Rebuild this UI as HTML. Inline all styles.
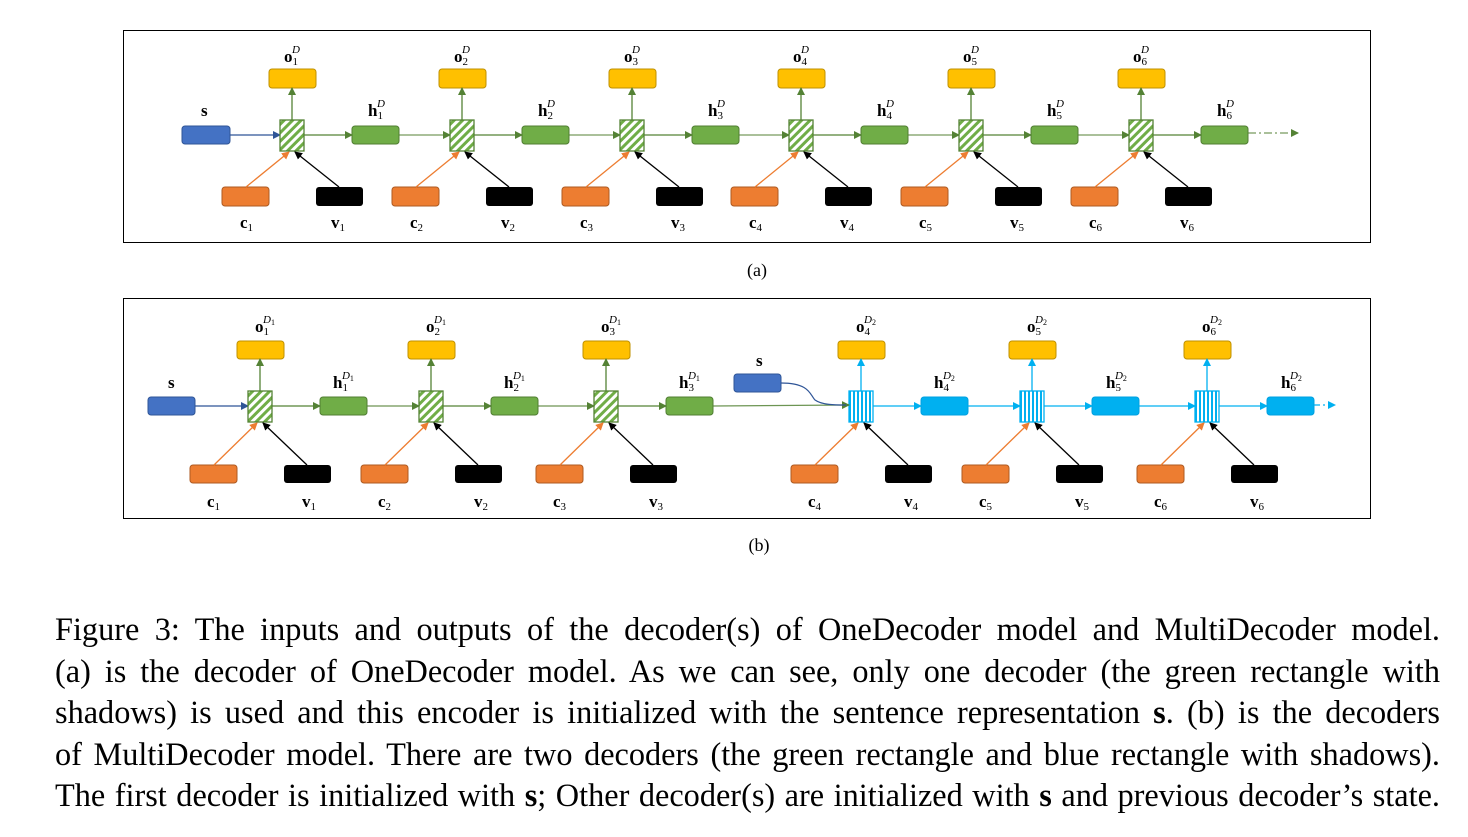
<!DOCTYPE html>
<html><head><meta charset="utf-8">
<style>
html,body{margin:0;padding:0;background:#fff;}
body{width:1468px;height:837px;position:relative;overflow:hidden;font-family:"Liberation Serif",serif;}
svg{position:absolute;left:0;top:0;}
.cap{position:absolute;left:55px;width:1385px;font-size:32.3px;line-height:41.5px;top:609px;color:#000;}
.cap div{text-align:justify;text-align-last:justify;white-space:nowrap;height:41.5px;}
</style></head><body>
<svg width="1468" height="837" viewBox="0 0 1468 837" font-family="Liberation Serif, serif">
<defs>
<pattern id="hatch" width="6" height="6" patternUnits="userSpaceOnUse" patternTransform="rotate(45)">
<rect width="6" height="6" fill="#fff"/><rect width="3" height="6" fill="#70AD47"/>
</pattern>
<pattern id="vstripe" width="4" height="4" patternUnits="userSpaceOnUse">
<rect width="4" height="4" fill="#fff"/><rect width="2" height="4" fill="#00B0F0"/>
</pattern>
<marker id="ag" markerWidth="8" markerHeight="8" refX="7" refY="4" orient="auto" markerUnits="userSpaceOnUse"><path d="M0,0 L8,4 L0,8z" fill="#548235"/></marker>
<marker id="ab" markerWidth="8" markerHeight="8" refX="7" refY="4" orient="auto" markerUnits="userSpaceOnUse"><path d="M0,0 L8,4 L0,8z" fill="#2F5597"/></marker>
<marker id="ac" markerWidth="8" markerHeight="8" refX="7" refY="4" orient="auto" markerUnits="userSpaceOnUse"><path d="M0,0 L8,4 L0,8z" fill="#00B0F0"/></marker>
<marker id="ao" markerWidth="8" markerHeight="8" refX="7" refY="4" orient="auto" markerUnits="userSpaceOnUse"><path d="M0,0 L8,4 L0,8z" fill="#ED7D31"/></marker>
<marker id="ak" markerWidth="8" markerHeight="8" refX="7" refY="4" orient="auto" markerUnits="userSpaceOnUse"><path d="M0,0 L8,4 L0,8z" fill="#000"/></marker>

<g id="ca">
<rect x="-23" y="69" width="47" height="19" rx="3" fill="#FFC000" stroke="#BF9000"/>
<line x1="0" y1="120" x2="0" y2="88" stroke="#548235" stroke-width="1.3" marker-end="url(#ag)"/>
<rect x="-12" y="120" width="24" height="31" fill="url(#hatch)" stroke="#548235" stroke-width="1.3"/>
<rect x="-70" y="187" width="47" height="19" rx="3" fill="#ED7D31" stroke="#AE5A21"/>
<rect x="24" y="187" width="47" height="19" rx="3" fill="#000"/>
<line x1="-46" y1="187" x2="-3" y2="152" stroke="#ED7D31" stroke-width="1.3" marker-end="url(#ao)"/>
<line x1="47" y1="187" x2="3" y2="152" stroke="#000" stroke-width="1.3" marker-end="url(#ak)"/>
<rect x="60" y="126" width="47" height="18" rx="3" fill="#70AD47" stroke="#507E32"/>
<line x1="12" y1="135" x2="60" y2="135" stroke="#548235" stroke-width="1.3" marker-end="url(#ag)"/>
</g>
<g id="cbg">
<rect x="-23" y="341" width="47" height="18" rx="3" fill="#FFC000" stroke="#BF9000"/>
<line x1="0" y1="391" x2="0" y2="359" stroke="#548235" stroke-width="1.3" marker-end="url(#ag)"/>
<rect x="-12" y="391" width="24" height="31" fill="url(#hatch)" stroke="#548235" stroke-width="1.3"/>
<rect x="-70" y="465" width="47" height="18" rx="3" fill="#ED7D31" stroke="#AE5A21"/>
<rect x="24" y="465" width="47" height="18" rx="3" fill="#000"/>
<line x1="-46" y1="465" x2="-3" y2="423" stroke="#ED7D31" stroke-width="1.3" marker-end="url(#ao)"/>
<line x1="47" y1="465" x2="3" y2="423" stroke="#000" stroke-width="1.3" marker-end="url(#ak)"/>
<rect x="60" y="397" width="47" height="18" rx="3" fill="#70AD47" stroke="#507E32"/>
<line x1="12" y1="406" x2="60" y2="406" stroke="#548235" stroke-width="1.3" marker-end="url(#ag)"/>
</g>
<g id="cbb">
<rect x="-23" y="341" width="47" height="18" rx="3" fill="#FFC000" stroke="#BF9000"/>
<line x1="0" y1="391" x2="0" y2="359" stroke="#00B0F0" stroke-width="1.3" marker-end="url(#ac)"/>
<rect x="-12" y="391" width="24" height="31" fill="url(#vstripe)" stroke="#00B0F0" stroke-width="1.3"/>
<rect x="-70" y="465" width="47" height="18" rx="3" fill="#ED7D31" stroke="#AE5A21"/>
<rect x="24" y="465" width="47" height="18" rx="3" fill="#000"/>
<line x1="-46" y1="465" x2="-3" y2="423" stroke="#ED7D31" stroke-width="1.3" marker-end="url(#ao)"/>
<line x1="47" y1="465" x2="3" y2="423" stroke="#000" stroke-width="1.3" marker-end="url(#ak)"/>
<rect x="60" y="397" width="47" height="18" rx="3" fill="#00B0F0" stroke="#00A0E0"/>
<line x1="12" y1="406" x2="60" y2="406" stroke="#00B0F0" stroke-width="1.3" marker-end="url(#ac)"/>
</g>
</defs>

<!-- Panel a -->
<rect x="123.5" y="30.5" width="1247" height="212" fill="none" stroke="#000" stroke-width="1"/>
<rect x="182" y="126" width="48" height="18" rx="3" fill="#4472C4" stroke="#2F5597"/>
<line x1="230" y1="135" x2="280" y2="135" stroke="#2F5597" stroke-width="1.3" marker-end="url(#ab)"/>
<use href="#ca" x="292"/><use href="#ca" x="462"/><use href="#ca" x="632"/><use href="#ca" x="801"/><use href="#ca" x="971"/><use href="#ca" x="1141"/>
<g stroke="#548235" stroke-width="1.3" stroke-opacity="0.8">
<line x1="399" y1="135" x2="450" y2="135" marker-end="url(#ag)"/>
<line x1="569" y1="135" x2="620" y2="135" marker-end="url(#ag)"/>
<line x1="739" y1="135" x2="789" y2="135" marker-end="url(#ag)"/>
<line x1="908" y1="135" x2="959" y2="135" marker-end="url(#ag)"/>
<line x1="1078" y1="135" x2="1129" y2="135" marker-end="url(#ag)"/>
<line x1="1248" y1="133" x2="1298" y2="133" stroke-dasharray="8,3,2,3" marker-end="url(#ag)"/>
</g>
<g font-weight="bold" font-size="17">
<text x="201" y="116">s</text>
</g>
<g font-size="17">
<text x="284" y="62" font-weight="bold">o<tspan font-size="11" font-weight="normal" dy="3">1</tspan><tspan font-size="11" font-style="italic" font-weight="normal" dx="-6" dy="-12">D</tspan></text>
<text x="454" y="62" font-weight="bold">o<tspan font-size="11" font-weight="normal" dy="3">2</tspan><tspan font-size="11" font-style="italic" font-weight="normal" dx="-6" dy="-12">D</tspan></text>
<text x="624" y="62" font-weight="bold">o<tspan font-size="11" font-weight="normal" dy="3">3</tspan><tspan font-size="11" font-style="italic" font-weight="normal" dx="-6" dy="-12">D</tspan></text>
<text x="793" y="62" font-weight="bold">o<tspan font-size="11" font-weight="normal" dy="3">4</tspan><tspan font-size="11" font-style="italic" font-weight="normal" dx="-6" dy="-12">D</tspan></text>
<text x="963" y="62" font-weight="bold">o<tspan font-size="11" font-weight="normal" dy="3">5</tspan><tspan font-size="11" font-style="italic" font-weight="normal" dx="-6" dy="-12">D</tspan></text>
<text x="1133" y="62" font-weight="bold">o<tspan font-size="11" font-weight="normal" dy="3">6</tspan><tspan font-size="11" font-style="italic" font-weight="normal" dx="-6" dy="-12">D</tspan></text>
<text x="368" y="116" font-weight="bold">h<tspan font-size="11" font-weight="normal" dy="3">1</tspan><tspan font-size="11" font-style="italic" font-weight="normal" dx="-6" dy="-12">D</tspan></text>
<text x="538" y="116" font-weight="bold">h<tspan font-size="11" font-weight="normal" dy="3">2</tspan><tspan font-size="11" font-style="italic" font-weight="normal" dx="-6" dy="-12">D</tspan></text>
<text x="708" y="116" font-weight="bold">h<tspan font-size="11" font-weight="normal" dy="3">3</tspan><tspan font-size="11" font-style="italic" font-weight="normal" dx="-6" dy="-12">D</tspan></text>
<text x="877" y="116" font-weight="bold">h<tspan font-size="11" font-weight="normal" dy="3">4</tspan><tspan font-size="11" font-style="italic" font-weight="normal" dx="-6" dy="-12">D</tspan></text>
<text x="1047" y="116" font-weight="bold">h<tspan font-size="11" font-weight="normal" dy="3">5</tspan><tspan font-size="11" font-style="italic" font-weight="normal" dx="-6" dy="-12">D</tspan></text>
<text x="1217" y="116" font-weight="bold">h<tspan font-size="11" font-weight="normal" dy="3">6</tspan><tspan font-size="11" font-style="italic" font-weight="normal" dx="-6" dy="-12">D</tspan></text>
<text x="240" y="228" font-weight="bold">c<tspan font-size="11" font-weight="normal" dy="3">1</tspan></text>
<text x="331" y="228" font-weight="bold">v<tspan font-size="11" font-weight="normal" dy="3">1</tspan></text>
<text x="410" y="228" font-weight="bold">c<tspan font-size="11" font-weight="normal" dy="3">2</tspan></text>
<text x="501" y="228" font-weight="bold">v<tspan font-size="11" font-weight="normal" dy="3">2</tspan></text>
<text x="580" y="228" font-weight="bold">c<tspan font-size="11" font-weight="normal" dy="3">3</tspan></text>
<text x="671" y="228" font-weight="bold">v<tspan font-size="11" font-weight="normal" dy="3">3</tspan></text>
<text x="749" y="228" font-weight="bold">c<tspan font-size="11" font-weight="normal" dy="3">4</tspan></text>
<text x="840" y="228" font-weight="bold">v<tspan font-size="11" font-weight="normal" dy="3">4</tspan></text>
<text x="919" y="228" font-weight="bold">c<tspan font-size="11" font-weight="normal" dy="3">5</tspan></text>
<text x="1010" y="228" font-weight="bold">v<tspan font-size="11" font-weight="normal" dy="3">5</tspan></text>
<text x="1089" y="228" font-weight="bold">c<tspan font-size="11" font-weight="normal" dy="3">6</tspan></text>
<text x="1180" y="228" font-weight="bold">v<tspan font-size="11" font-weight="normal" dy="3">6</tspan></text>
</g>
<text x="757" y="276" font-size="18" text-anchor="middle">(a)</text>

<!-- Panel b -->
<rect x="123.5" y="298.5" width="1247" height="220" fill="none" stroke="#000" stroke-width="1"/>
<rect x="148" y="397" width="47" height="18" rx="3" fill="#4472C4" stroke="#2F5597"/>
<line x1="195" y1="406" x2="248" y2="406" stroke="#2F5597" stroke-width="1.3" marker-end="url(#ab)"/>
<use href="#cbg" x="260"/><use href="#cbg" x="431"/><use href="#cbg" x="606"/>
<use href="#cbb" x="861"/><use href="#cbb" x="1032"/><use href="#cbb" x="1207"/>
<g stroke="#548235" stroke-width="1.3" stroke-opacity="0.85">
<line x1="367" y1="406" x2="419" y2="406" marker-end="url(#ag)"/>
<line x1="538" y1="406" x2="594" y2="406" marker-end="url(#ag)"/>
<line x1="713" y1="406" x2="849" y2="405" marker-end="url(#ag)"/>
</g>
<rect x="734" y="374" width="47" height="18" rx="3" fill="#4472C4" stroke="#2F5597"/>
<path d="M781,383 C810,383 810,395 815,400 C822,405 835,405 846,405" fill="none" stroke="#2F5597" stroke-width="1.2"/>
<g stroke="#00B0F0" stroke-width="1.3">
<line x1="968" y1="406" x2="1020" y2="406" marker-end="url(#ac)"/>
<line x1="1139" y1="406" x2="1195" y2="406" marker-end="url(#ac)"/>
<line x1="1314" y1="405" x2="1335" y2="405" stroke-dasharray="6,3,2,3" marker-end="url(#ac)"/>
</g>
<g font-size="17">
<text x="168" y="388" font-weight="bold">s</text>
<text x="756" y="366" font-weight="bold">s</text>
<text x="255" y="332" font-weight="bold">o<tspan font-size="11" font-weight="normal" dy="3">1</tspan><tspan font-size="11" font-style="italic" font-weight="normal" dx="-6" dy="-12">D</tspan><tspan font-size="8" font-weight="normal" dy="2">1</tspan></text>
<text x="426" y="332" font-weight="bold">o<tspan font-size="11" font-weight="normal" dy="3">2</tspan><tspan font-size="11" font-style="italic" font-weight="normal" dx="-6" dy="-12">D</tspan><tspan font-size="8" font-weight="normal" dy="2">1</tspan></text>
<text x="601" y="332" font-weight="bold">o<tspan font-size="11" font-weight="normal" dy="3">3</tspan><tspan font-size="11" font-style="italic" font-weight="normal" dx="-6" dy="-12">D</tspan><tspan font-size="8" font-weight="normal" dy="2">1</tspan></text>
<text x="856" y="332" font-weight="bold">o<tspan font-size="11" font-weight="normal" dy="3">4</tspan><tspan font-size="11" font-style="italic" font-weight="normal" dx="-6" dy="-12">D</tspan><tspan font-size="8" font-weight="normal" dy="2">2</tspan></text>
<text x="1027" y="332" font-weight="bold">o<tspan font-size="11" font-weight="normal" dy="3">5</tspan><tspan font-size="11" font-style="italic" font-weight="normal" dx="-6" dy="-12">D</tspan><tspan font-size="8" font-weight="normal" dy="2">2</tspan></text>
<text x="1202" y="332" font-weight="bold">o<tspan font-size="11" font-weight="normal" dy="3">6</tspan><tspan font-size="11" font-style="italic" font-weight="normal" dx="-6" dy="-12">D</tspan><tspan font-size="8" font-weight="normal" dy="2">2</tspan></text>
<text x="333" y="388" font-weight="bold">h<tspan font-size="11" font-weight="normal" dy="3">1</tspan><tspan font-size="11" font-style="italic" font-weight="normal" dx="-6" dy="-12">D</tspan><tspan font-size="8" font-weight="normal" dy="2">1</tspan></text>
<text x="504" y="388" font-weight="bold">h<tspan font-size="11" font-weight="normal" dy="3">2</tspan><tspan font-size="11" font-style="italic" font-weight="normal" dx="-6" dy="-12">D</tspan><tspan font-size="8" font-weight="normal" dy="2">1</tspan></text>
<text x="679" y="388" font-weight="bold">h<tspan font-size="11" font-weight="normal" dy="3">3</tspan><tspan font-size="11" font-style="italic" font-weight="normal" dx="-6" dy="-12">D</tspan><tspan font-size="8" font-weight="normal" dy="2">1</tspan></text>
<text x="934" y="388" font-weight="bold">h<tspan font-size="11" font-weight="normal" dy="3">4</tspan><tspan font-size="11" font-style="italic" font-weight="normal" dx="-6" dy="-12">D</tspan><tspan font-size="8" font-weight="normal" dy="2">2</tspan></text>
<text x="1106" y="388" font-weight="bold">h<tspan font-size="11" font-weight="normal" dy="3">5</tspan><tspan font-size="11" font-style="italic" font-weight="normal" dx="-6" dy="-12">D</tspan><tspan font-size="8" font-weight="normal" dy="2">2</tspan></text>
<text x="1281" y="388" font-weight="bold">h<tspan font-size="11" font-weight="normal" dy="3">6</tspan><tspan font-size="11" font-style="italic" font-weight="normal" dx="-6" dy="-12">D</tspan><tspan font-size="8" font-weight="normal" dy="2">2</tspan></text>
<text x="207" y="507" font-weight="bold">c<tspan font-size="11" font-weight="normal" dy="3">1</tspan></text>
<text x="302" y="507" font-weight="bold">v<tspan font-size="11" font-weight="normal" dy="3">1</tspan></text>
<text x="378" y="507" font-weight="bold">c<tspan font-size="11" font-weight="normal" dy="3">2</tspan></text>
<text x="474" y="507" font-weight="bold">v<tspan font-size="11" font-weight="normal" dy="3">2</tspan></text>
<text x="553" y="507" font-weight="bold">c<tspan font-size="11" font-weight="normal" dy="3">3</tspan></text>
<text x="649" y="507" font-weight="bold">v<tspan font-size="11" font-weight="normal" dy="3">3</tspan></text>
<text x="808" y="507" font-weight="bold">c<tspan font-size="11" font-weight="normal" dy="3">4</tspan></text>
<text x="904" y="507" font-weight="bold">v<tspan font-size="11" font-weight="normal" dy="3">4</tspan></text>
<text x="979" y="507" font-weight="bold">c<tspan font-size="11" font-weight="normal" dy="3">5</tspan></text>
<text x="1075" y="507" font-weight="bold">v<tspan font-size="11" font-weight="normal" dy="3">5</tspan></text>
<text x="1154" y="507" font-weight="bold">c<tspan font-size="11" font-weight="normal" dy="3">6</tspan></text>
<text x="1250" y="507" font-weight="bold">v<tspan font-size="11" font-weight="normal" dy="3">6</tspan></text>
</g>
<text x="759" y="551" font-size="18" text-anchor="middle">(b)</text>
</svg>
<div class="cap">
<div>Figure 3: The inputs and outputs of the decoder(s) of OneDecoder model and MultiDecoder model.</div>
<div>(a) is the decoder of OneDecoder model. As we can see, only one decoder (the green rectangle with</div>
<div>shadows) is used and this encoder is initialized with the sentence representation <b>s</b>. (b) is the decoders</div>
<div>of MultiDecoder model. There are two decoders (the green rectangle and blue rectangle with shadows).</div>
<div>The first decoder is initialized with <b>s</b>; Other decoder(s) are initialized with <b>s</b> and previous decoder’s state.</div>
</div>
</body></html>
